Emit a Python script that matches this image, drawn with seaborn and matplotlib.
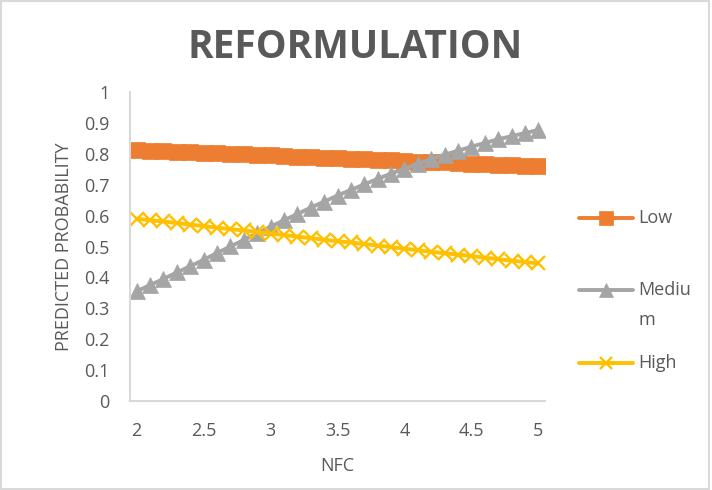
import matplotlib
matplotlib.use("Agg")
import matplotlib.pyplot as plt
from matplotlib.lines import Line2D
from matplotlib.patches import Rectangle
import seaborn as sns
import pandas as pd

# NFC levels (0.1 steps from 2 to 5)
nfc = [2.0, 2.1, 2.2, 2.3, 2.4, 2.5, 2.6, 2.7, 2.8, 2.9, 3.0,
       3.1, 3.2, 3.3, 3.4, 3.5, 3.6, 3.7, 3.8, 3.9, 4.0,
       4.1, 4.2, 4.3, 4.4, 4.5, 4.6, 4.7, 4.8, 4.9, 5.0]

low = [0.812, 0.810, 0.809, 0.807, 0.805, 0.803, 0.802, 0.800, 0.798, 0.796, 0.795,
       0.793, 0.791, 0.789, 0.788, 0.786, 0.784, 0.782, 0.781, 0.779, 0.777,
       0.775, 0.774, 0.772, 0.770, 0.768, 0.767, 0.765, 0.763, 0.761, 0.760]

medium = [0.355, 0.375, 0.395, 0.416, 0.436, 0.457, 0.479, 0.500, 0.521, 0.543, 0.564,
          0.585, 0.605, 0.626, 0.645, 0.665, 0.683, 0.701, 0.719, 0.736, 0.752,
          0.768, 0.783, 0.797, 0.810, 0.823, 0.835, 0.847, 0.857, 0.867, 0.877]

high = [0.590, 0.585, 0.581, 0.576, 0.571, 0.566, 0.561, 0.556, 0.552, 0.547, 0.542,
        0.537, 0.532, 0.527, 0.522, 0.517, 0.513, 0.508, 0.503, 0.498, 0.493,
        0.488, 0.483, 0.478, 0.474, 0.469, 0.464, 0.459, 0.454, 0.450, 0.445]

series_names = ["Low", "Medium", "High"]
legend_labels = ["Low", "Mediu\nm", "High"]
x_ticks = [2, 2.5, 3, 3.5, 4, 4.5, 5]
x_tick_labels = ["2", "2.5", "3", "3.5", "4", "4.5", "5"]
y_ticks = [0, 0.1, 0.2, 0.3, 0.4, 0.5, 0.6, 0.7, 0.8, 0.9, 1]
y_tick_labels = ["0", "0.1", "0.2", "0.3", "0.4", "0.5", "0.6", "0.7", "0.8", "0.9", "1"]

sns.set_theme(style="white")
plt.rcParams["font.family"] = ["Open Sans", "DejaVu Sans"]

TEXT = "#595959"
AXIS = "#D9D9D9"
colors = {"Low": "#ED7D31", "Medium": "#A5A5A5", "High": "#FFC000"}
markers = {"Low": "s", "Medium": "^", "High": "x"}
msizes = {"Low": 12, "Medium": 11.5, "High": 10.5}
medges = {"Low": 0.5, "Medium": 0.5, "High": 1.7}

df = pd.DataFrame({"NFC": nfc, "Low": low, "Medium": medium, "High": high})
long = df.melt(id_vars="NFC", var_name="Level", value_name="Probability")

W, H = 712, 490
fig = plt.figure(figsize=(W / 100, H / 100), dpi=100)
ax = fig.add_axes([130 / W, 1 - 401 / H, 415 / W, 309 / H])

for name in series_names:
    sub = long[long["Level"] == name]
    sns.lineplot(data=sub, x="NFC", y="Probability", ax=ax, color=colors[name],
                 linewidth=2.8, marker=markers[name], markersize=msizes[name],
                 markeredgewidth=medges[name], markeredgecolor=colors[name],
                 legend=False)

ax.set_xlim(1.95, 5.05)
ax.set_ylim(0, 1)
ax.set_xticks(x_ticks)
ax.set_xticklabels(x_tick_labels)
ax.set_yticks(y_ticks)
ax.set_yticklabels(y_tick_labels)
ax.tick_params(axis="both", labelsize=13, colors=TEXT, length=0)
ax.tick_params(axis="x", pad=15)
ax.tick_params(axis="y", pad=15)

for side in ["top", "right"]:
    ax.spines[side].set_visible(False)
for side in ["left", "bottom"]:
    ax.spines[side].set_color(AXIS)
    ax.spines[side].set_linewidth(1.5)
ax.grid(False)

ax.set_xlabel("NFC", fontsize=13, color=TEXT, labelpad=12)
ax.set_ylabel("PREDICTED PROBABILITY", fontsize=13, color=TEXT, labelpad=8)

fig.text(355 / W, 1 - 47 / H, "REFORMULATION", ha="center", va="center",
         fontsize=28, fontweight="bold", color=TEXT)

# legend on the right: handle line + marker, then label
legend_y = [218, 290, 363]
for name, label, y in zip(series_names, legend_labels, legend_y):
    yf = 1 - y / H
    fig.add_artist(Line2D([579 / W, 633 / W], [yf, yf], transform=fig.transFigure,
                          color=colors[name], linewidth=2.8,
                          solid_capstyle="round"))
    fig.add_artist(Line2D([606 / W], [yf], transform=fig.transFigure,
                          color=colors[name], linestyle="none",
                          marker=markers[name], markersize=msizes[name] * 0.85,
                          markeredgewidth=medges[name],
                          markeredgecolor=colors[name]))
    if "\n" in label:
        # wrapped label: first line sits level with the handle
        fig.text(638 / W, 1 - (y - 9) / H, label, ha="left", va="top",
                 fontsize=13, color=TEXT, linespacing=1.85)
    else:
        fig.text(638 / W, yf, label, ha="left", va="center",
                 fontsize=13, color=TEXT)

# chart border
fig.add_artist(Rectangle((0.002, 0.002), 0.994, 0.996, transform=fig.transFigure,
                         fill=False, edgecolor=AXIS, linewidth=1.5))

fig.savefig("out.png", dpi=100, facecolor="white")
